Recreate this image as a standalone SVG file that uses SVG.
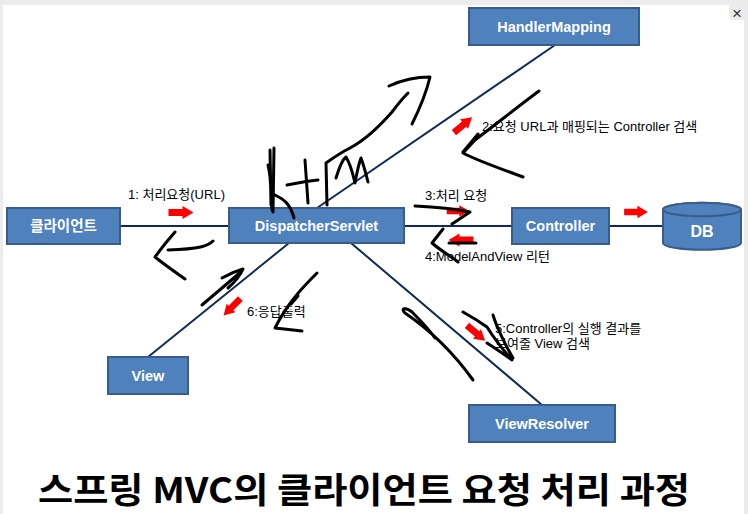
<svg xmlns="http://www.w3.org/2000/svg" width="748" height="514" viewBox="0 0 748 514">
<style>
.box{fill:#4f81bd;stroke:#385d8a;stroke-width:2}
.bl{fill:#fff;font-family:"Liberation Sans","Noto Sans CJK KR",sans-serif;font-weight:bold;font-size:14.5px;text-anchor:middle}
.lbl{fill:#000;font-family:"Liberation Sans","Noto Sans CJK KR",sans-serif;font-size:13px}
.con{stroke:#10295a;stroke-width:2;fill:none}
.ra{fill:#ff0000}
.sc{fill:none;stroke:#000;stroke-width:3;stroke-linecap:round;stroke-linejoin:round}
</style>
<defs>
<path id="arr" d="M-12.5,-3.5 H1.5 V-6.5 L12.5,0 L1.5,6.5 V3.5 H-12.5 Z"/>
</defs>
<rect x="0" y="0" width="748" height="514" fill="#ececec"/>
<rect x="3" y="5" width="741" height="509" fill="#ffffff"/>
<path d="M729,5 H744 V20 H734 Q729,20 729,15 Z" fill="#ececec"/>
<text x="737" y="19" font-family="Liberation Sans,sans-serif" font-size="17" fill="#333" text-anchor="middle">×</text>

<g id="connectors">
<line class="con" x1="120" y1="226" x2="229" y2="226"/>
<line class="con" x1="404" y1="226" x2="512" y2="226"/>
<line class="con" x1="609" y1="226" x2="663" y2="226"/>
<line class="con" x1="317" y1="208" x2="555" y2="45"/>
<line class="con" x1="289" y1="243" x2="148" y2="357"/>
<line class="con" x1="351" y1="243" x2="542" y2="405"/>
</g>

<g id="client"><rect class="box" x="7" y="208" width="113" height="36"/><text class="bl" x="63.5" y="231">클라이언트</text></g>
<g id="dispatcher"><rect class="box" x="229" y="208" width="175" height="35"/><text class="bl" x="316.5" y="231">DispatcherServlet</text></g>
<g id="controller"><rect class="box" x="512" y="208" width="97" height="36"/><text class="bl" x="560.5" y="231">Controller</text></g>
<g id="db"><path class="box" d="M663,209.5 A39,6.8 0 0 1 741,209.5 V243 A39,6.8 0 0 1 663,243 Z"/><ellipse class="box" cx="702" cy="209.5" rx="39" ry="6.8"/><text class="bl" x="702" y="237" style="font-size:16px">DB</text></g>
<g id="handlermapping"><rect class="box" x="469" y="8" width="170" height="37"/><text class="bl" x="554" y="31.5">HandlerMapping</text></g>
<g id="view"><rect class="box" x="108" y="357" width="80" height="37"/><text class="bl" x="148" y="380.5">View</text></g>
<g id="viewresolver"><rect class="box" x="469" y="405" width="146" height="37"/><text class="bl" x="542" y="428.5">ViewResolver</text></g>

<g id="labels">
<text class="lbl" x="128" y="199">1: 처리요청(URL)</text>
<text class="lbl" x="482" y="131">2:요청 URL과 매핑되는 Controller 검색</text>
<text class="lbl" x="425" y="200">3:처리 요청</text>
<text class="lbl" x="425" y="261">4:ModelAndView 리턴</text>
<text class="lbl" x="495" y="333">5:Controller의 실행 결과를</text>
<text class="lbl" x="495" y="348">보여줄 View 검색</text>
<text class="lbl" x="247" y="316">6:응답출력</text>
</g>

<g id="red-arrows" class="ra">
<use href="#arr" transform="translate(181,212.5)"/>
<use href="#arr" transform="translate(458,211) scale(0.9)"/>
<use href="#arr" transform="translate(461,240) rotate(180)"/>
<use href="#arr" transform="translate(636,212) scale(0.95)"/>
<use href="#arr" transform="translate(463,125) rotate(-40) scale(0.95)"/>
<use href="#arr" transform="translate(232,307) rotate(135) scale(0.95)"/>
<use href="#arr" transform="translate(476,333) rotate(40) scale(0.95)"/>
</g>

<g id="scribbles" class="sc">
<path d="M327,205 L326,163 C333,158 340,153 350,148 C365,140 378,128 392,112 C398,104 403,98 408,93"/>
<path d="M389,86 C402,80 418,77 430,77 C426,94 419,110 412,124"/>
<path d="M270,150 L271,205 M274,148 L273,212 M268,165 C272,180 270,195 272,210 M275,195 C283,199 290,203 294,218"/>
<path d="M287,185 C297,183 307,181 318,180 M305,160 C306,175 307,190 308,203"/>
<path d="M336,178 C339,168 342,160 346,157 C351,165 353,175 355,183 C357,172 359,163 361,158 C364,166 366,174 368,182"/>
<path d="M539,91 C520,105 495,125 475,140 L463,153 C480,162 505,170 523,177 M463,152 L478,134"/>
<path d="M415,206 C435,207 455,209 470,212 L452,224 M443,229 L432,243 C440,250 450,256 458,262 M449,243 L476,243"/>
<path d="M213,241 C208,246 200,249 168,250 M175,232 C168,240 160,250 155,257 C165,265 175,272 185,279"/>
<path d="M202,305 C215,294 228,283 242,271 M222,278 C229,274 236,271 243,269 C240,276 235,282 228,288"/>
<path d="M317,273 C310,280 302,288 295,297 C287,307 280,318 275,328 C284,329 293,330 302,331 M291,304 L298,296"/>
<path d="M473,380 C455,355 430,330 405,313 C400,308 406,307 412,312 C420,320 428,328 435,338"/>
<path d="M463,312 C472,317 480,322 487,327 C492,335 497,343 512,360 M493,315 C496,325 505,345 513,358 M487,343 C495,348 502,353 512,360"/>
</g>

<text x="38" y="503" font-family="Noto Sans CJK KR,sans-serif" font-weight="bold" font-size="35" fill="#000" textLength="652" lengthAdjust="spacingAndGlyphs">스프링 MVC의 클라이언트 요청 처리 과정</text>
</svg>
